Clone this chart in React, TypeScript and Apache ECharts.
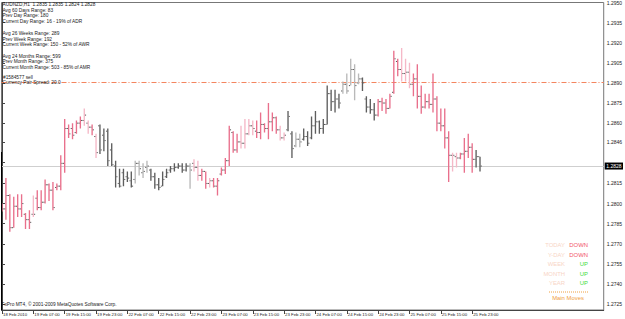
import React, { useEffect, useRef } from "react";
import * as echarts from "echarts";

// ---------- data ----------
const symbol = "AUDNZD,H1";

const opens = [
  1.2797, 1.2796, 1.2806, 1.2782, 1.2798, 1.2796, 1.2792, 1.2788, 1.2792, 1.2804,
  1.2797, 1.2801, 1.2814, 1.2810, 1.2812, 1.2813, 1.2830, 1.2856, 1.2856, 1.2853,
  1.2860, 1.2862, 1.2860, 1.2857, 1.2850, 1.2858, 1.2851, 1.2854, 1.2840, 1.2828,
  1.2815, 1.2823, 1.2820, 1.2817, 1.2818, 1.2830, 1.2823, 1.2827, 1.2825, 1.2820,
  1.2814, 1.2813, 1.2820, 1.2825, 1.2826, 1.2827, 1.2828, 1.2825, 1.2828, 1.2830,
  1.2827, 1.2821, 1.2824, 1.2815, 1.2817, 1.2813, 1.2822, 1.2825, 1.2832, 1.2853,
  1.2840, 1.2846, 1.2845, 1.2852, 1.2858, 1.2854, 1.2853, 1.2859, 1.2856, 1.2861,
  1.2864, 1.2855, 1.2849, 1.2855, 1.2852, 1.2843, 1.2848, 1.2848, 1.2850, 1.2849,
  1.2858, 1.2861, 1.2856, 1.2859, 1.2882, 1.2876, 1.2878, 1.2884, 1.2889, 1.2888,
  1.2900, 1.2890, 1.2893, 1.2878, 1.2872, 1.2870, 1.2866, 1.2876, 1.2875, 1.2871,
  1.2883, 1.2906, 1.2900, 1.2897, 1.2898, 1.2889, 1.2893, 1.2880, 1.2872, 1.2876,
  1.2874, 1.2878, 1.2860, 1.2858, 1.2849, 1.2836, 1.2835, 1.2834, 1.2837, 1.2839,
  1.2842, 1.2833, 1.2835,
];
const highs = [
  1.2800, 1.2819, 1.2807, 1.2805, 1.2807, 1.2807, 1.2793, 1.2795, 1.2806, 1.2810,
  1.2810, 1.2818, 1.2815, 1.2816, 1.2815, 1.2836, 1.2863, 1.2859, 1.2860, 1.2862,
  1.2865, 1.2871, 1.2862, 1.2859, 1.2852, 1.2859, 1.2856, 1.2856, 1.2845, 1.2832,
  1.2826, 1.2826, 1.2824, 1.2824, 1.2832, 1.2832, 1.2830, 1.2832, 1.2826, 1.2823,
  1.2819, 1.2824, 1.2826, 1.2828, 1.2830, 1.2830, 1.2830, 1.2830, 1.2830, 1.2833,
  1.2832, 1.2826, 1.2824, 1.2819, 1.2819, 1.2819, 1.2827, 1.2834, 1.2858, 1.2854,
  1.2852, 1.2858, 1.2863, 1.2863, 1.2862, 1.2862, 1.2868, 1.2860, 1.2875, 1.2868,
  1.2865, 1.2858, 1.2853, 1.2869, 1.2854, 1.2853, 1.2852, 1.2856, 1.2854, 1.2865,
  1.2869, 1.2862, 1.2863, 1.2888, 1.2885, 1.2885, 1.2882, 1.2891, 1.2897, 1.2908,
  1.2904, 1.2897, 1.2894, 1.2880, 1.2878, 1.2875, 1.2878, 1.2879, 1.2878, 1.2882,
  1.2914, 1.2908, 1.2916, 1.2908, 1.2905, 1.2897, 1.2904, 1.2888, 1.2882, 1.2882,
  1.2897, 1.2880, 1.2871, 1.2871, 1.2854, 1.2838, 1.2838, 1.2838, 1.2849, 1.2852,
  1.2845, 1.2840, 1.2835,
];
const lows = [
  1.2794, 1.2788, 1.2779, 1.2782, 1.2790, 1.2790, 1.2781, 1.2781, 1.2790, 1.2795,
  1.2795, 1.2800, 1.2802, 1.2795, 1.2810, 1.2810, 1.2823, 1.2849, 1.2848, 1.2852,
  1.2856, 1.2858, 1.2852, 1.2851, 1.2834, 1.2837, 1.2839, 1.2828, 1.2828, 1.2812,
  1.2812, 1.2813, 1.2816, 1.2812, 1.2815, 1.2821, 1.2819, 1.2823, 1.2817, 1.2811,
  1.2810, 1.2813, 1.2819, 1.2823, 1.2824, 1.2826, 1.2823, 1.2824, 1.2811, 1.2824,
  1.2817, 1.2817, 1.2811, 1.2812, 1.2812, 1.2806, 1.2821, 1.2822, 1.2828, 1.2838,
  1.2838, 1.2841, 1.2841, 1.2851, 1.2851, 1.2849, 1.2848, 1.2853, 1.2848, 1.2854,
  1.2852, 1.2847, 1.2847, 1.2854, 1.2834, 1.2842, 1.2842, 1.2847, 1.2843, 1.2848,
  1.2852, 1.2852, 1.2852, 1.2859, 1.2869, 1.2868, 1.2871, 1.2882, 1.2882, 1.2888,
  1.2877, 1.2889, 1.2884, 1.2868, 1.2867, 1.2862, 1.2865, 1.2869, 1.2867, 1.2871,
  1.2882, 1.2895, 1.2891, 1.2891, 1.2886, 1.2880, 1.2871, 1.2867, 1.2871, 1.2871,
  1.2868, 1.2854, 1.2854, 1.2841, 1.2816, 1.2824, 1.2827, 1.2833, 1.2823, 1.2834,
  1.2823, 1.2827, 1.2824,
];
const closes = [
  1.2796, 1.2806, 1.2782, 1.2798, 1.2796, 1.2800, 1.2788, 1.2786, 1.2792, 1.2797,
  1.2801, 1.2814, 1.2810, 1.2797, 1.2813, 1.2830, 1.2856, 1.2852, 1.2851, 1.2860,
  1.2862, 1.2866, 1.2857, 1.2855, 1.2838, 1.2840, 1.2847, 1.2832, 1.2829, 1.2820,
  1.2813, 1.2818, 1.2819, 1.2813, 1.2830, 1.2826, 1.2824, 1.2828, 1.2820, 1.2814,
  1.2812, 1.2818, 1.2823, 1.2826, 1.2827, 1.2828, 1.2825, 1.2828, 1.2825, 1.2827,
  1.2821, 1.2824, 1.2815, 1.2817, 1.2813, 1.2817, 1.2825, 1.2832, 1.2855, 1.2840,
  1.2846, 1.2845, 1.2852, 1.2858, 1.2856, 1.2853, 1.2859, 1.2856, 1.2861, 1.2864,
  1.2855, 1.2849, 1.2851, 1.2865, 1.2841, 1.2848, 1.2846, 1.2850, 1.2845, 1.2858,
  1.2861, 1.2856, 1.2859, 1.2882, 1.2876, 1.2878, 1.2875, 1.2889, 1.2884, 1.2900,
  1.2888, 1.2893, 1.2890, 1.2872, 1.2870, 1.2866, 1.2876, 1.2875, 1.2871, 1.2880,
  1.2908, 1.2900, 1.2897, 1.2898, 1.2889, 1.2893, 1.2880, 1.2872, 1.2876, 1.2874,
  1.2878, 1.2860, 1.2858, 1.2849, 1.2836, 1.2836, 1.2834, 1.2837, 1.2839, 1.2842,
  1.2833, 1.2835, 1.2828,
];
// bar tone per bar: P strong pink, p light pink, G dark grey, g light grey
const tones = (
  "PPPPPPPP" + "p" + "PPPPPPPPPPPP" + "pp" + "P" + "p" + "GGGGGGGGG" + "gggg" +
  "GGGGGGGGGG" + "g" + "pp" + "PP" + "p" + "PPPPPPP" + "pppp" + "PPPPPP" + "pp" +
  "GG" + "gg" + "GGGGGGGGGG" + "ggggg" + "GGGG" + "PPPPPP" + "ppp" + "PPPPPPPPPP" +
  "pp" + "PPPP" + "GG"
).split("");

const xLabels = [
  "18 Feb 2010", "19 Feb 07:00", "19 Feb 15:00", "19 Feb 23:00", "22 Feb 07:00",
  "22 Feb 15:00", "22 Feb 23:00", "23 Feb 07:00", "23 Feb 15:00", "23 Feb 23:00",
  "24 Feb 07:00", "24 Feb 15:00", "24 Feb 23:00", "25 Feb 07:00", "25 Feb 15:00",
  "25 Feb 23:00",
];
const barsPerLabel = 8;
const yTicks = [
  1.2725, 1.2740, 1.2755, 1.2770, 1.2785, 1.2800, 1.2815, 1.2831, 1.2846, 1.2860,
  1.2875, 1.2890, 1.2905, 1.2920, 1.2935, 1.2950,
];
const orderPrice = 1.2891;
const orderLabel = "#1584577 sell";

const infoLines = [
  "Avg 60 Days Range: 83",
  "Prev Day Range: 180",
  "Current Day Range: 16 - 19% of ADR",
  "Avg 26 Weeks Range: 289",
  "Prev Week Range: 192",
  "Current Week Range: 150 - 52% of AWR",
  "Avg 24 Months Range: 599",
  "Prev Month Range: 375",
  "Current Month Range: 503 - 85% of AMR",
];
const spreadLine = "Currency Pair Spread: 20.0";
const footer = "FxPro MT4, \u00A9 2001-2009 MetaQuotes Software Corp.";
const moveNames = ["TODAY", "Y-DAY", "WEEK", "MONTH", "YEAR"];
const moveDirs = ["DOWN", "DOWN", "UP", "UP", "UP"];
const movesTitle = "Main Moves";

// ---------- layout / style ----------
const W = 625;
const H = 319;
const FONT = "'Liberation Sans', Arial, sans-serif";
const toneColor: Record<string, string> = {
  P: "#E9708C",
  p: "#F5B8C7",
  G: "#5E5E5E",
  g: "#B9B9B9",
};
const ORDER_COLOR = "#F4855F";
const infoY = [10, 15.6, 21.2, 33.6, 39.2, 44.8, 56.2, 61.8, 67.4];

export default function App() {
  const ref = useRef<HTMLDivElement>(null);

  useEffect(() => {
    document.body.style.margin = "0";
    const el = ref.current;
    if (!el) return;
    const chart = echarts.init(el, null, { renderer: "svg" });

    const n = closes.length;
    const data = closes.map((c, i) => [i, opens[i], highs[i], lows[i], c]);
    const last = n - 1;
    const bid = closes[last];
    const title = `${symbol}  ${opens[last].toFixed(4)} ${highs[last].toFixed(4)} ${lows[last].toFixed(4)} ${closes[last].toFixed(4)}`;
    const xTickIdx = xLabels.map((_, k) => k * barsPerLabel);
    // the bid box hides the tick label it sits on
    const yLabelVals = yTicks.filter((v) => Math.abs(v - bid) > 0.0006);

    const textEl = (text: string, x: number, y: number, opts: any = {}) => ({
      type: "text",
      x,
      y,
      silent: true,
      z: 100,
      style: {
        text,
        fill: opts.fill || "#1a1a1a",
        fontSize: opts.fontSize || 4.8,
        fontFamily: FONT,
        align: opts.align || "left",
        verticalAlign: "middle",
      },
    });

    const graphic: any[] = [];
    graphic.push(textEl(title, 2.5, 4.6));
    infoLines.forEach((t, k) => graphic.push(textEl(t, 2.5, infoY[k])));
    graphic.push(textEl(spreadLine, 2.5, 82.6));
    graphic.push(textEl(footer, 1.5, 304.5, { fontSize: 4.8 }));
    moveNames.forEach((t, k) => {
      const y = 245 + k * 9.6;
      graphic.push(textEl(t, 565, y, { fill: "#F8D5C6", fontSize: 5.9, align: "right" }));
      graphic.push(
        textEl(moveDirs[k], 588, y, {
          fill: moveDirs[k] === "UP" ? "#3FDD3F" : "#F2566A",
          fontSize: 5.9,
          align: "right",
        })
      );
    });
    graphic.push({
      type: "line",
      silent: true,
      shape: { x1: 549, y1: 292, x2: 588, y2: 292 },
      style: { stroke: "#F0A040", lineWidth: 1, lineDash: [1, 1] },
    });
    graphic.push(textEl(movesTitle, 568, 297.5, { fill: "#F0A040", fontSize: 5.9, align: "center" }));
    graphic.push({
      type: "line",
      silent: true,
      z: 50,
      shape: { x1: 1.5, y1: 152, x2: 1.5, y2: 310 },
      style: { stroke: "#000", lineWidth: 1 },
    });

    const option: any = {
      animation: false,
      backgroundColor: "#ffffff",
      grid: {
        left: 1,
        right: 20,
        top: 1,
        bottom: 9,
        show: true,
        borderColor: "#777",
        borderWidth: 1,
        backgroundColor: "#ffffff",
      },
      xAxis: {
        type: "value",
        min: -0.13,
        max: 153.57,
        axisLine: { show: true, lineStyle: { color: "#444", width: 1 } },
        axisTick: {
          show: true,
          customValues: xTickIdx,
          length: 4,
          lineStyle: { color: "#444" },
        },
        axisLabel: {
          customValues: xTickIdx,
          formatter: (v: number) => xLabels[Math.round(v / barsPerLabel)] || "",
          fontSize: 4.3,
          fontFamily: FONT,
          color: "#1a1a1a",
          align: "left",
          margin: 2,
          padding: [0, 0, 0, 1],
        },
        splitLine: { show: false },
      },
      yAxis: {
        type: "value",
        position: "right",
        min: 1.27206,
        max: 1.295,
        axisLine: { show: true, lineStyle: { color: "#444", width: 1 } },
        axisTick: {
          show: true,
          customValues: yTicks,
          length: 3,
          lineStyle: { color: "#444" },
        },
        axisLabel: {
          customValues: yLabelVals,
          formatter: (v: number) => v.toFixed(4),
          fontSize: 5,
          fontFamily: FONT,
          color: "#1a1a1a",
          margin: 3,
        },
        splitLine: { show: false },
      },
      graphic,
      series: [
        {
          type: "line",
          name: "bid",
          data: [],
          silent: true,
          markLine: {
            silent: true,
            precision: 4,
            symbol: ["none", "none"],
            animation: false,
            lineStyle: { color: "#CFCFCF", width: 1, type: "solid" },
            label: {
              show: true,
              position: "end",
              formatter: bid.toFixed(4),
              backgroundColor: "#000",
              color: "#fff",
              fontSize: 5,
              fontFamily: FONT,
              padding: [1, 1.5, 1, 1.5],
              distance: 1,
            },
            data: [{ yAxis: bid }],
          },
        },
        {
          type: "custom",
          name: "order",
          data: [[0, orderPrice]],
          silent: true,
          z: 3,
          encode: { x: 0, y: 1 },
          renderItem: (params: any, api: any) => {
            const cs = params.coordSys;
            const y = Math.round(api.coord([0, api.value(1)])[1]) + 0.5;
            return {
              type: "group",
              children: [
                {
                  type: "line",
                  shape: { x1: cs.x, y1: y, x2: cs.x + cs.width, y2: y },
                  style: { stroke: ORDER_COLOR, lineWidth: 1, lineDash: [5, 2, 1, 2] },
                },
                {
                  type: "text",
                  x: cs.x + 1.5,
                  y: y - 4.6,
                  style: {
                    text: orderLabel,
                    fill: "#1a1a1a",
                    fontSize: 4.8,
                    fontFamily: FONT,
                    align: "left",
                    verticalAlign: "middle",
                  },
                },
              ],
            };
          },
        },
        {
          type: "custom",
          data,
          encode: { x: 0, y: [1, 2, 3, 4] },
          clip: true,
          z: 5,
          renderItem: (params: any, api: any) => {
            const i = api.value(0);
            const o = api.coord([i, api.value(1)]);
            const h = api.coord([i, api.value(2)]);
            const l = api.coord([i, api.value(3)]);
            const c = api.coord([i, api.value(4)]);
            const col = toneColor[tones[params.dataIndex]] || "#5E5E5E";
            return {
              type: "group",
              children: [
                {
                  type: "line",
                  shape: { x1: h[0], y1: h[1], x2: l[0], y2: l[1] },
                  style: { stroke: col, lineWidth: 1.35 },
                },
                {
                  type: "line",
                  shape: { x1: o[0] - 1.8, y1: o[1], x2: o[0] - 0.7, y2: o[1] },
                  style: { stroke: "#555", lineWidth: 1 },
                },
                {
                  type: "line",
                  shape: { x1: c[0] + 0.7, y1: c[1], x2: c[0] + 1.8, y2: c[1] },
                  style: { stroke: "#555", lineWidth: 1 },
                },
              ],
            };
          },
        },
      ],
    };

    chart.setOption(option);
    return () => chart.dispose();
  }, []);

  return (
    <div
      ref={ref}
      style={{ position: "absolute", left: 0, top: 0, width: W, height: H }}
    />
  );
}
